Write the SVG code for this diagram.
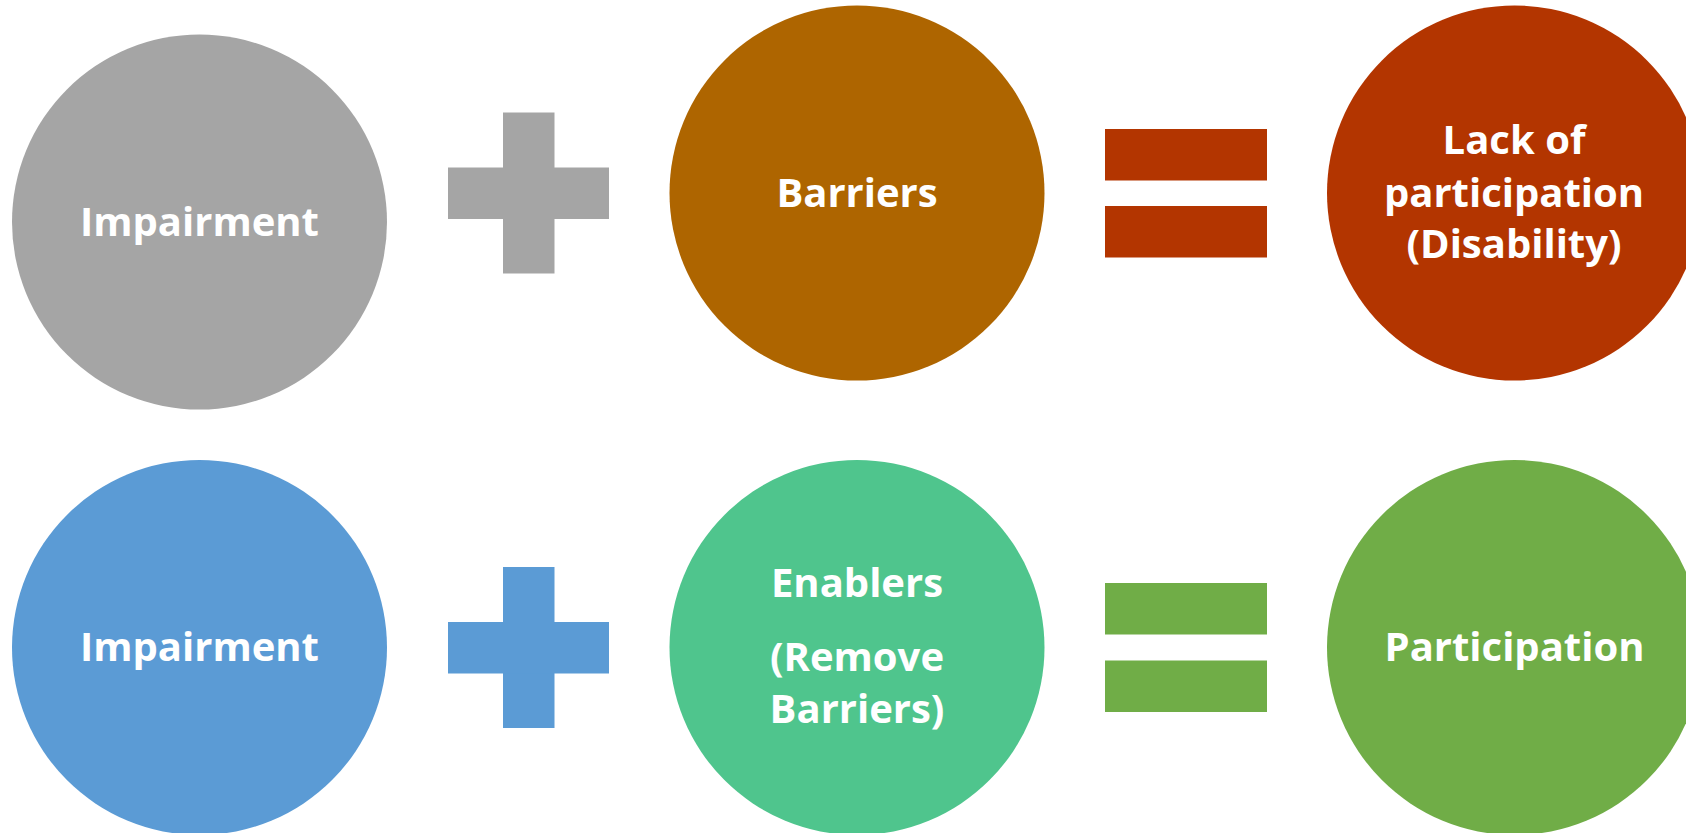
<svg xmlns="http://www.w3.org/2000/svg" width="1686" height="833" viewBox="0 0 1686 833">
  <style>
    .lbl { font-family: "Open Sans", "Noto Sans", "Liberation Sans", sans-serif; font-weight: 700; font-size: 40px; fill: #ffffff; text-anchor: middle; }
    .gray { fill: #A5A5A5; }
    .brown { fill: #AE6500; }
    .rust { fill: #B33500; }
    .blue { fill: #5B9BD5; }
    .teal { fill: #4FC58D; }
    .green { fill: #70AD47; }
  </style>
  <rect width="1686" height="833" fill="#ffffff"/>

  <!-- Row 1: Impairment + Barriers = Lack of participation -->
  <g id="impairment-top">
    <circle class="gray" cx="199.5" cy="222" r="187.5"/>
    <text class="lbl" x="199.5" y="236">Impairment</text>
  </g>
  <g id="barriers">
    <circle class="brown" cx="857" cy="193" r="187.5"/>
    <text class="lbl" x="857" y="207">Barriers</text>
  </g>
  <g id="lack-of-participation">
    <circle class="rust" cx="1514.5" cy="193" r="187.5"/>
    <text class="lbl" x="1514" y="154">Lack of</text>
    <text class="lbl" x="1514" y="206.5">participation</text>
    <text class="lbl" x="1514" y="258">(Disability)</text>
  </g>

  <!-- Row 2: Impairment + Enablers = Participation -->
  <g id="impairment-bottom">
    <circle class="blue" cx="199.5" cy="647.5" r="187.5"/>
    <text class="lbl" x="199.5" y="661">Impairment</text>
  </g>
  <g id="enablers">
    <circle class="teal" cx="857" cy="647.5" r="187.5"/>
    <text class="lbl" x="857" y="596.5">Enablers</text>
    <text class="lbl" x="857" y="670.5">(Remove</text>
    <text class="lbl" x="857" y="723">Barriers)</text>
  </g>
  <g id="participation">
    <circle class="green" cx="1514.5" cy="647.5" r="187.5"/>
    <text class="lbl" x="1514.5" y="661">Participation</text>
  </g>

  <!-- Operators between the circles -->
  <g id="operators">
    <g id="plus-top" class="gray">
      <rect x="503" y="112.5" width="51.5" height="161"/>
      <rect x="448" y="167.5" width="161" height="51.5"/>
    </g>
    <g id="equals-top" class="rust">
      <rect x="1105" y="129" width="162" height="51.5"/>
      <rect x="1105" y="206" width="162" height="51.5"/>
    </g>
    <g id="plus-bottom" class="blue">
      <rect x="503" y="567" width="51.5" height="161"/>
      <rect x="448" y="622" width="161" height="51.5"/>
    </g>
    <g id="equals-bottom" class="green">
      <rect x="1105" y="583" width="162" height="51.5"/>
      <rect x="1105" y="660.5" width="162" height="51.5"/>
    </g>
  </g>
</svg>
